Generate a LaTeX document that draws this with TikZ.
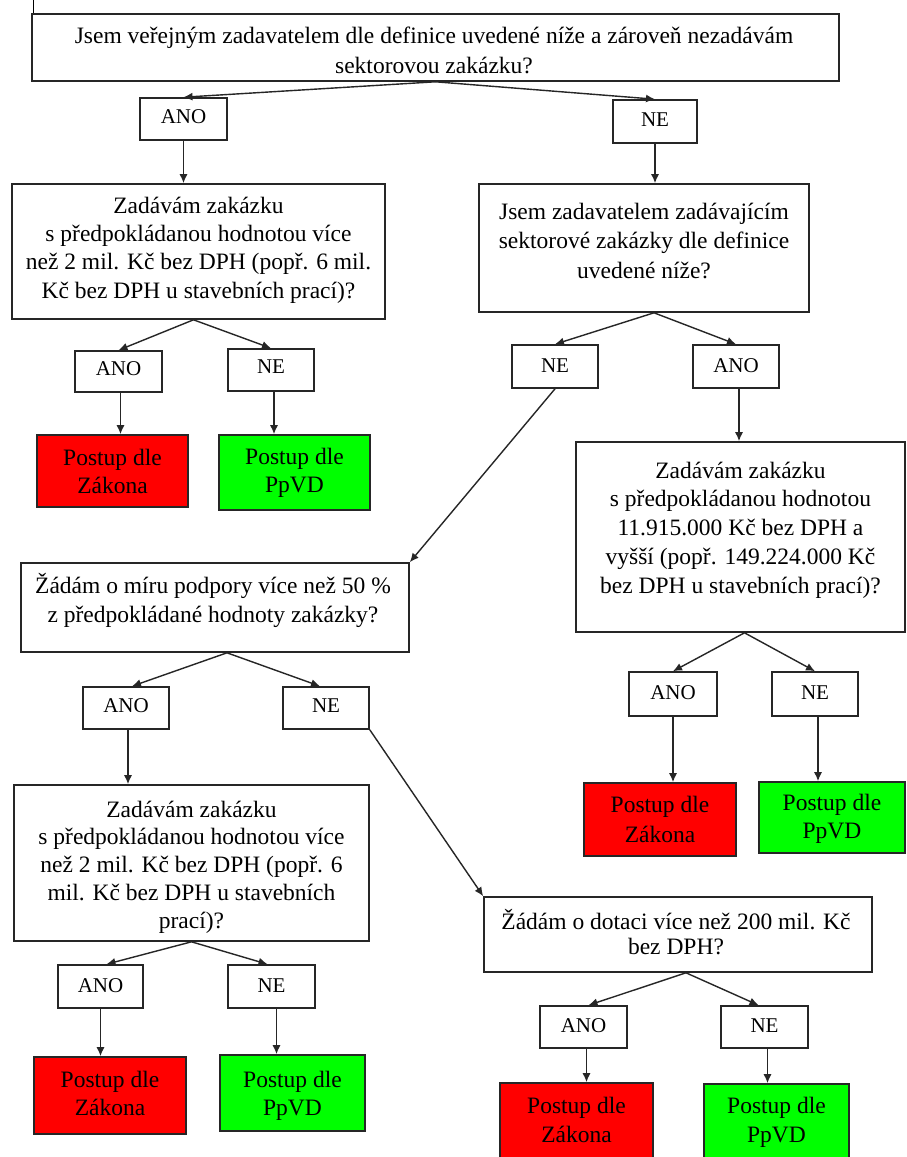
\documentclass[tikz,border=0pt]{standalone}
\usepackage{fontspec}
\setmainfont{Liberation Serif}
\usetikzlibrary{arrows.meta}
\tikzset{
 box/.style={draw=black!85, line width=1.6pt, inner sep=0pt, fill=white},
 redbox/.style={box, fill=red},
 greenbox/.style={box, fill=green},
 txt/.style={align=center, inner sep=0pt, text=black},
 arr/.style={draw=black!85, line width=1.4pt, -{Latex[length=9pt,width=8pt]}},
}
\newcommand\bx[6]{\node[#6, minimum width={#4-#2}, minimum height={#5-#3}] (#1) at ({(#2+#4)/2},{(#3+#5)/2}) {};}
\newcommand\tx[6]{\node[txt, font=\fontsize{#5}{#4}\selectfont, anchor=north] (#1) at (#2,{#3-0.7*#4}) {#6};}
\begin{document}
\begin{tikzpicture}[x=1pt,y=-1pt]
\useasboundingbox (0,0) rectangle (906,1157);
\clip (0,0) rectangle (906,1157);
\fill[white] (0,0) rectangle (906,1157);
\draw[line width=1pt] (33,0) -- (33,24);
% boxes
\bx{q1}{32}{14}{839}{81}{box}
\bx{y1}{140}{98}{227}{140}{box}
\bx{n1}{613}{100}{697}{143}{box}
\bx{q2}{12}{184}{385}{319}{box}
\bx{q3}{479}{184}{809}{312}{box}
\bx{y2}{75}{351}{162}{392}{box}
\bx{n2}{228}{349}{314}{391}{box}
\bx{r1}{37}{435}{188}{507}{redbox}
\bx{g1}{219}{435}{370}{510}{greenbox}
\bx{n3}{512}{345}{598}{388}{box}
\bx{y3}{693}{345}{779}{388}{box}
\bx{q4}{576}{442}{905}{632}{box}
\bx{y4}{629}{672}{717}{716}{box}
\bx{n4}{772}{672}{858}{716}{box}
\bx{r2}{584}{783}{736}{856}{redbox}
\bx{g2}{759}{782}{905}{853}{greenbox}
\bx{q5}{21}{563}{409}{652}{box}
\bx{y5}{83}{687}{169}{729}{box}
\bx{n5}{283}{687}{369}{729}{box}
\bx{q6}{14}{785}{369}{941}{box}
\bx{q7}{484}{897}{872}{972}{box}
\bx{y6}{58}{965}{143}{1008}{box}
\bx{n6}{228}{965}{315}{1008}{box}
\bx{r3}{34}{1057}{186}{1134}{redbox}
\bx{g3}{220}{1055}{365}{1131}{greenbox}
\bx{y7}{540}{1006}{627}{1048}{box}
\bx{n7}{721}{1006}{808}{1048}{box}
\bx{r4}{500}{1083}{653}{1165}{redbox}
\bx{g4}{704}{1084}{849}{1165}{greenbox}
% texts
\tx{q1t}{434}{43}{30}{23.5}{\strut Jsem veřejným zadavatelem dle definice uvedené níže a zároveň nezadávám\\\strut sektorovou zakázku?}
\tx{y1t}{183.5}{123}{28}{21}{\strut ANO}
\tx{n1t}{655}{126}{28}{21}{\strut NE}
\tx{q2t}{198.5}{213}{28.3}{23.5}{\strut Zadávám zakázku\\\strut s předpokládanou hodnotou více\\\strut než 2 mil. Kč bez DPH (popř. 6 mil.\\\strut Kč bez DPH u stavebních prací)?}
\tx{q3t}{644}{219}{29.5}{23.5}{\strut Jsem zadavatelem zadávajícím\\\strut sektorové zakázky dle definice\\\strut uvedené níže?}
\tx{y2t}{118.5}{375}{28}{21}{\strut ANO}
\tx{n2t}{271}{373}{28}{21}{\strut NE}
\tx{r1t}{112.5}{465}{28}{23.5}{\strut Postup dle\\\strut Zákona}
\tx{g1t}{294.5}{464}{28}{23.5}{\strut Postup dle\\\strut PpVD}
\tx{n3t}{555}{372}{28}{21}{\strut NE}
\tx{y3t}{736}{372}{28}{21}{\strut ANO}
\tx{q4t}{740.5}{478}{28.75}{23.5}{\strut Zadávám zakázku\\\strut s předpokládanou hodnotou\\\strut 11.915.000 Kč bez DPH a\\\strut vyšší (popř. 149.224.000 Kč\\\strut bez DPH u stavebních prací)?}
\tx{y4t}{673}{699}{28}{21}{\strut ANO}
\tx{n4t}{815}{699}{28}{21}{\strut NE}
\tx{r2t}{660}{812}{30}{23.5}{\strut Postup dle\\\strut Zákona}
\tx{g2t}{832}{810}{28}{23.5}{\strut Postup dle\\\strut PpVD}
\tx{q5t}{213}{593}{29}{23.5}{\strut Žádám o míru podpory více než 50 \%\\\strut z předpokládané hodnoty zakázky?}
\tx{y5t}{126}{712}{28}{21}{\strut ANO}
\tx{n5t}{326}{712}{28}{21}{\strut NE}
\tx{q6t}{191.5}{817}{27.75}{23.5}{\strut Zadávám zakázku\\\strut s předpokládanou hodnotou více\\\strut než 2 mil. Kč bez DPH (popř. 6\\\strut mil. Kč bez DPH u stavebních\\\strut prací)?}
\tx{q7t}{676}{927}{25}{23.5}{\strut Žádám o dotaci více než 200 mil. Kč\\\strut bez DPH?}
\tx{y6t}{100.5}{992}{28}{21}{\strut ANO}
\tx{n6t}{271.5}{992}{28}{21}{\strut NE}
\tx{r3t}{110}{1087}{28}{23.5}{\strut Postup dle\\\strut Zákona}
\tx{g3t}{292.5}{1087}{28}{23.5}{\strut Postup dle\\\strut PpVD}
\tx{y7t}{583.5}{1032}{28}{21}{\strut ANO}
\tx{n7t}{764.5}{1032}{28}{21}{\strut NE}
\tx{r4t}{576.5}{1113}{29}{23.5}{\strut Postup dle\\\strut Zákona}
\tx{g4t}{776.5}{1113}{29}{23.5}{\strut Postup dle\\\strut PpVD}
% connectors
\draw[arr] (q1.south) -- (y1.north);
\draw[arr] (q1.south) -- (n1.north);
\draw[arr] (y1.south) -- (y1.south |- q2.north);
\draw[arr] (n1.south) -- (n1.south |- q3.north);
\draw[arr] ([xshift=-5pt]q2.south) -- (y2.north);
\draw[arr] ([xshift=-5pt]q2.south) -- (n2.north);
\draw[arr] ([xshift=2pt]y2.south) -- ([xshift=2pt]y2.south |- r1.north);
\draw[arr] ([xshift=3pt]n2.south) -- ([xshift=3pt]n2.south |- g1.north);
\draw[arr] ([xshift=10pt]q3.south) -- (n3.north);
\draw[arr] ([xshift=10pt]q3.south) -- (y3.north);
\draw[arr] ([xshift=3pt]y3.south) -- ([xshift=3pt]y3.south |- q4.north);
\draw[arr] (n3.south) -- (q5.north east);
\draw[arr] ([xshift=4pt]q4.south) -- (y4.north);
\draw[arr] ([xshift=4pt]q4.south) -- (n4.north);
\draw[arr] (y4.south) -- (y4.south |- r2.north);
\draw[arr] ([xshift=3pt]n4.south) -- ([xshift=3pt]n4.south |- g2.north);
\draw[arr] ([xshift=12pt]q5.south) -- ([xshift=6pt]y5.north);
\draw[arr] ([xshift=12pt]q5.south) -- ([xshift=-6pt]n5.north);
\draw[arr] ([xshift=2pt]y5.south) -- ([xshift=2pt]y5.south |- q6.north);
\draw[arr] (n5.south east) -- (q7.north west);
\draw[arr] (q6.south) -- ([xshift=6pt]y6.north);
\draw[arr] (q6.south) -- ([xshift=-4pt]n6.north);
\draw[arr] (y6.south) -- (y6.south |- r3.north);
\draw[arr] ([xshift=5pt]n6.south) -- ([xshift=5pt]n6.south |- g3.north);
\draw[arr] ([xshift=8pt]q7.south) -- ([xshift=5pt]y7.north);
\draw[arr] ([xshift=8pt]q7.south) -- ([xshift=-6pt]n7.north);
\draw[arr] ([xshift=3pt]y7.south) -- ([xshift=3pt]y7.south |- r4.north);
\draw[arr] ([xshift=3pt]n7.south) -- ([xshift=3pt]n7.south |- g4.north);
\end{tikzpicture}
\end{document}
